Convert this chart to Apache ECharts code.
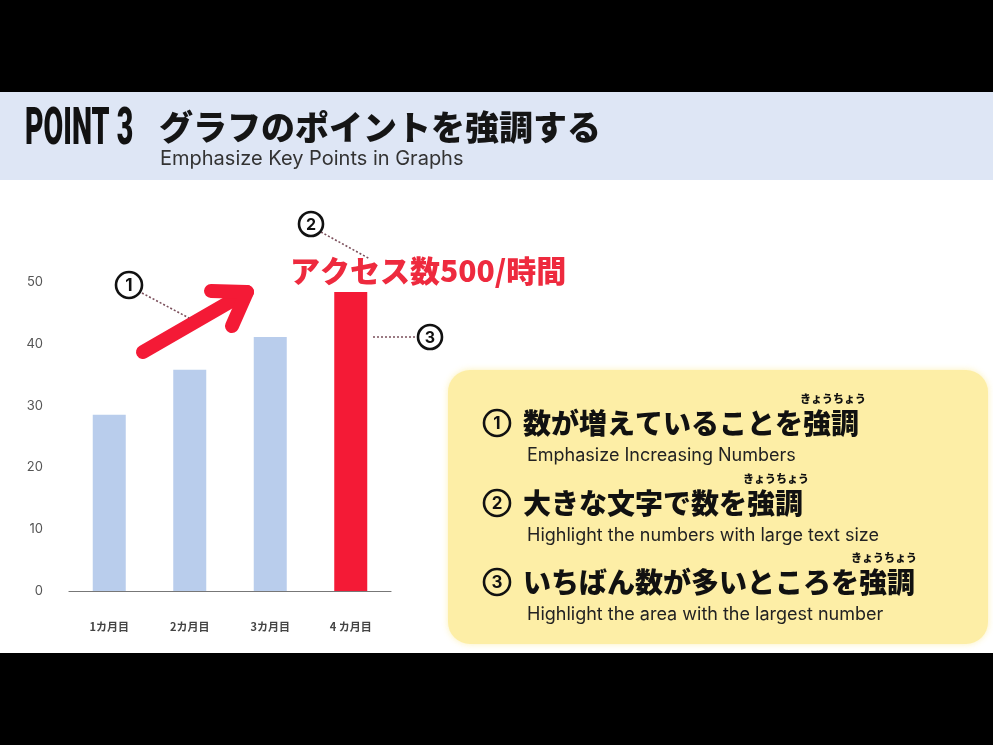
<!DOCTYPE html>
<html><head><meta charset="utf-8">
<script src="https://cdn.jsdelivr.net/npm/echarts@6/dist/echarts.min.js"></script>
<style>html,body{margin:0;padding:0;background:#000}#c{width:993px;height:745px}</style>
</head><body><div id="c"></div>
<script>
var categories = ['1カ月目', '2カ月目', '3カ月目', '4 カ月目'];
var values = [28.5, 35.8, 41.1, 48.4];
var yTicks = [0, 10, 20, 30, 40, 50];
var headerTitle = 'グラフのポイントを強調する';
var headerSub = 'Emphasize Key Points in Graphs';
var calloutText = 'アクセス数500/時間';
var points = [
  { jp: '数が増えていることを強調', en: 'Emphasize Increasing Numbers' },
  { jp: '大きな文字で数を強調', en: 'Highlight the numbers with large text size' },
  { jp: 'いちばん数が多いところを強調', en: 'Highlight the area with the largest number' }
];
var furigana = 'きょうちょう';

var JP = '"Noto Sans CJK JP", sans-serif';
var EN = 'Inter, "Noto Sans", sans-serif';
var RED = '#f41a36';
var BLUE = '#b9cdec';
var maxIdx = values.indexOf(Math.max.apply(null, values));

var chart = echarts.init(document.getElementById('c'));

function circledNum(cx, cy, r, n, fill) {
  return [
    { type: 'circle', z: 20, shape: { cx: cx, cy: cy, r: r },
      style: { fill: fill, stroke: '#111', lineWidth: 2.6 } },
    { type: 'text', z: 21, x: cx, y: cy + 1,
      style: { text: String(n), font: 'bold ' + Math.round(r * 1.3) + 'px ' + EN, fill: '#111',
        textAlign: 'center', textVerticalAlign: 'middle' } }
  ];
}
function dotted(x1, y1, x2, y2) {
  return { type: 'line', z: 15, shape: { x1: x1, y1: y1, x2: x2, y2: y2 },
    style: { stroke: '#7b4f5b', lineWidth: 1.6, lineDash: [2, 2] } };
}

var g = [];
// frame
g.push({ type: 'rect', z: 1, shape: { x: 0, y: 0, width: 993, height: 92 }, style: { fill: '#000' } });
g.push({ type: 'rect', z: 1, shape: { x: 0, y: 653, width: 993, height: 92 }, style: { fill: '#000' } });
g.push({ type: 'rect', z: 1, shape: { x: 0, y: 92, width: 993, height: 88 }, style: { fill: '#dee6f5' } });
// header
g.push({ type: 'text', z: 10, x: 25, y: 131, scaleX: 0.56,
  style: { text: 'POINT 3', font: '900 51px Roboto, sans-serif', fill: '#111', textAlign: 'left', textVerticalAlign: 'middle' } });
g.push({ type: 'text', z: 10, x: 159, y: 127,
  style: { text: headerTitle, font: '900 34px ' + JP, fill: '#151515', textAlign: 'left', textVerticalAlign: 'middle' } });
g.push({ type: 'text', z: 10, x: 160, y: 159,
  style: { text: headerSub, font: '20px ' + EN, fill: '#333', textAlign: 'left', textVerticalAlign: 'middle' } });
// arrow
g.push({ type: 'polyline', z: 12, shape: { points: [[143, 352], [247, 292]] },
  style: { stroke: RED, lineWidth: 14, lineCap: 'round', fill: null } });
g.push({ type: 'polyline', z: 12, shape: { points: [[211, 291], [247, 292], [232, 326]] },
  style: { stroke: RED, lineWidth: 14, lineCap: 'round', lineJoin: 'round', fill: null } });
// callouts
g.push(dotted(142, 293, 189, 318));
g = g.concat(circledNum(129, 285, 13, 1, '#fff'));
g.push(dotted(321, 232, 370, 259));
g = g.concat(circledNum(311, 224, 12, 2, '#fff'));
g.push(dotted(373, 337, 417, 337));
g = g.concat(circledNum(430, 337, 12, 3, '#fff'));
g.push({ type: 'text', z: 10, x: 290, y: 271,
  style: { text: calloutText, font: '900 30px ' + JP, fill: '#ee2a3e', textAlign: 'left', textVerticalAlign: 'middle' } });
// yellow box
g.push({ type: 'rect', z: 5, shape: { x: 448, y: 370, width: 540, height: 274, r: 22 },
  style: { fill: '#fdeea6', shadowBlur: 6, shadowColor: 'rgba(253,238,166,0.8)' } });
var rowY = [423, 503, 582];
var furiX = [833, 776, 884];
points.forEach(function (p, i) {
  g = g.concat(circledNum(497, rowY[i], 13, i + 1, 'rgba(0,0,0,0)'));
  g.push({ type: 'text', z: 10, x: 523, y: rowY[i],
    style: { text: p.jp, font: '900 28px ' + JP, fill: '#111', textAlign: 'left', textVerticalAlign: 'middle' } });
  g.push({ type: 'text', z: 10, x: furiX[i], y: rowY[i] - 24,
    style: { text: furigana, font: '900 11px ' + JP, fill: '#111', textAlign: 'center', textVerticalAlign: 'middle' } });
  g.push({ type: 'text', z: 10, x: 527, y: rowY[i] + 33,
    style: { text: p.en, font: '18px ' + EN, fill: '#222', textAlign: 'left', textVerticalAlign: 'middle' } });
});

chart.setOption({
  backgroundColor: '#ffffff',
  animation: false,
  grid: { left: 69, width: 322, top: 282, bottom: 154 },
  xAxis: {
    type: 'category', data: categories,
    axisLine: { lineStyle: { color: '#777', width: 1.2 } },
    axisTick: { show: false },
    axisLabel: { margin: 30, fontSize: 11, color: '#444', fontWeight: 'bold', fontFamily: JP }
  },
  yAxis: {
    type: 'value', min: yTicks[0], max: yTicks[yTicks.length - 1], interval: 10,
    axisLine: { show: false }, axisTick: { show: false }, splitLine: { show: false },
    axisLabel: { margin: 26, fontSize: 13, color: '#555', fontFamily: EN }
  },
  series: [{
    type: 'bar', data: values, barWidth: 33,
    itemStyle: { color: function (p) { return p.dataIndex === maxIdx ? RED : BLUE; } }
  }],
  graphic: { elements: g }
});
</script></body></html>
